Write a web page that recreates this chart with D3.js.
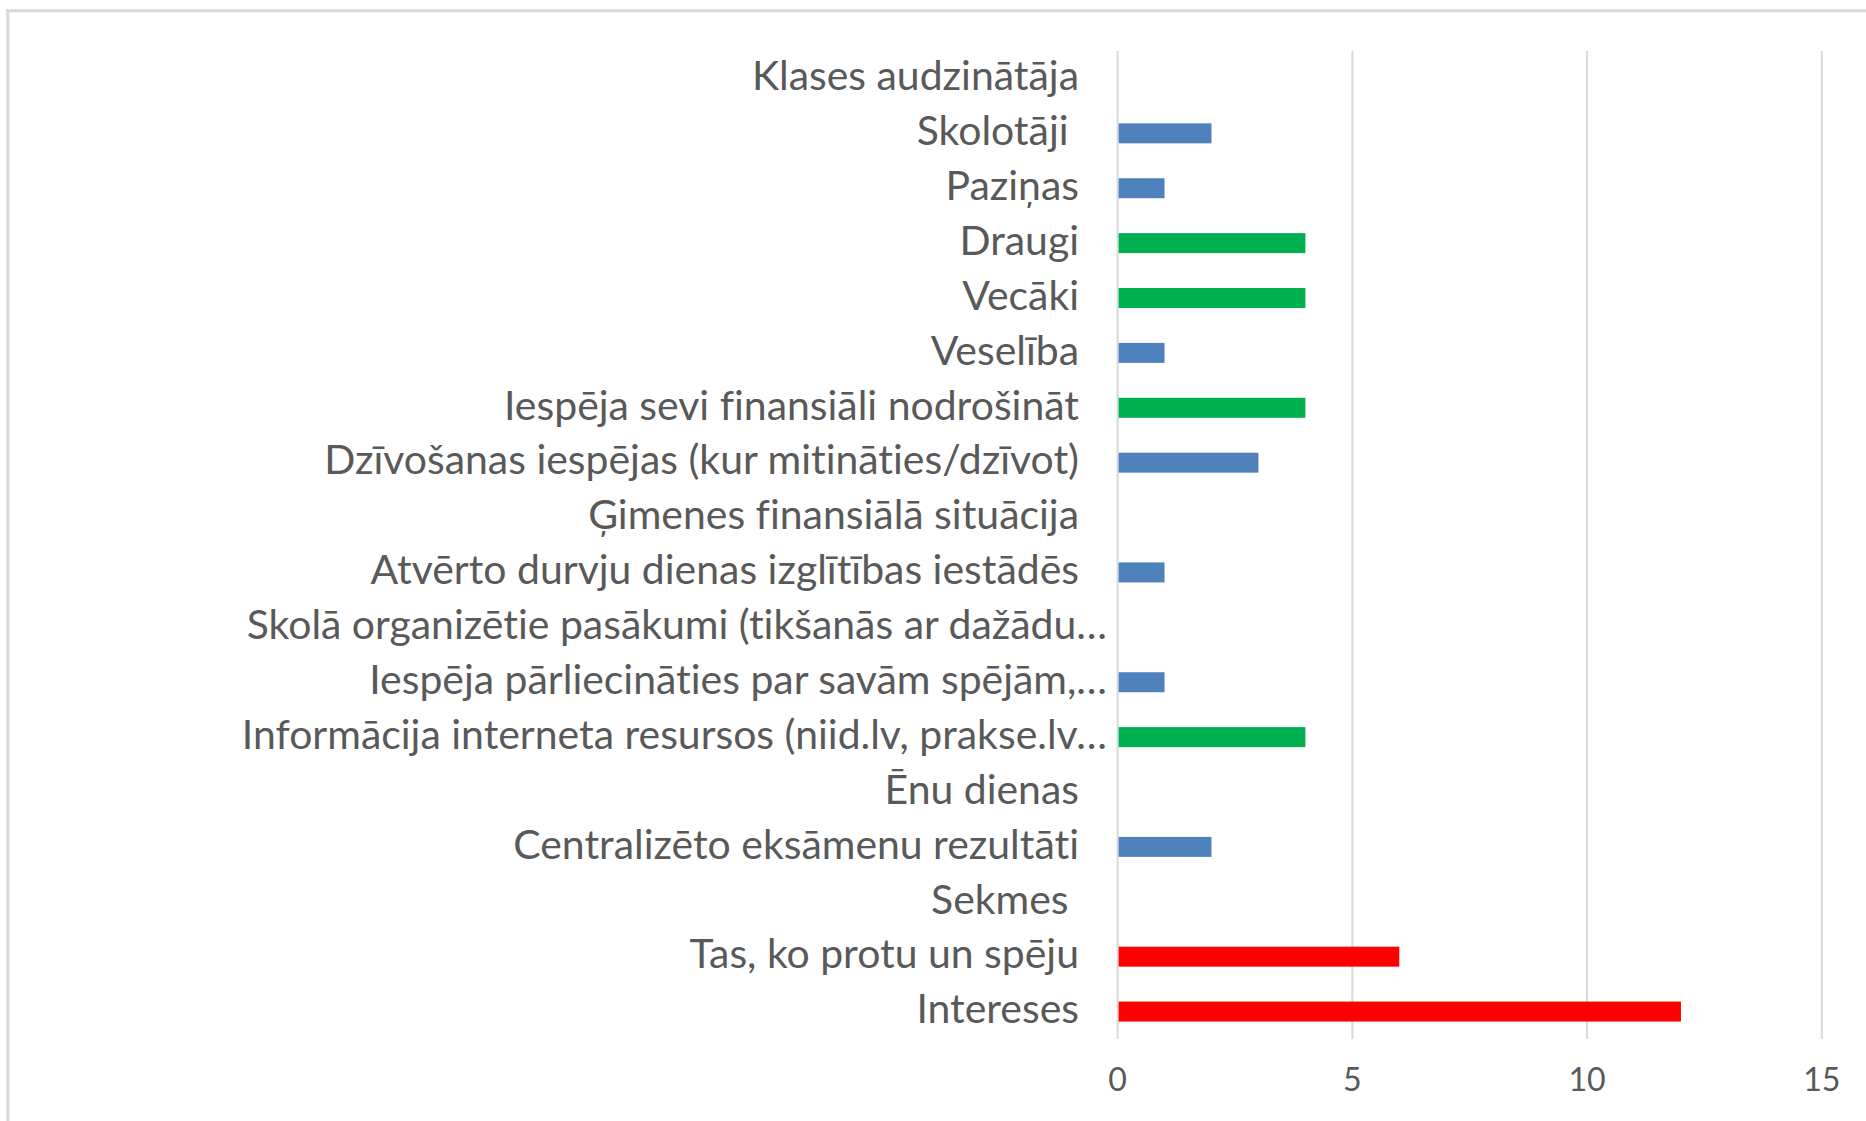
<!DOCTYPE html>
<html>
<head>
<meta charset="utf-8">
<script src="https://cdn.jsdelivr.net/npm/d3@7"></script>
<style>
  html, body { margin: 0; padding: 0; background: #fff; }
  svg { display: block; }
  text { white-space: pre; font-variant-ligatures: none; font-feature-settings: "liga" 0, "clig" 0; }
</style>
</head>
<body>
<script>
// ---- data ----
const categories = [
  "Klases audzinātāja",
  "Skolotāji ",
  "Paziņas",
  "Draugi",
  "Vecāki",
  "Veselība",
  "Iespēja sevi finansiāli nodrošināt",
  "Dzīvošanas iespējas (kur mitināties/dzīvot)",
  "Ģimenes finansiālā situācija",
  "Atvērto durvju dienas izglītības iestādēs",
  "Skolā organizētie pasākumi (tikšanās ar dažādu…",
  "Iespēja pārliecināties par savām spējām,…",
  "Informācija interneta resursos (niid.lv, prakse.lv…",
  "Ēnu dienas",
  "Centralizēto eksāmenu rezultāti",
  "Sekmes ",
  "Tas, ko protu un spēju",
  "Intereses"
];
const values = [0, 2, 1, 4, 4, 1, 4, 3, 0, 1, 0, 1, 4, 0, 2, 0, 6, 12];
const groups = ["b", "b", "b", "g", "g", "b", "g", "b", "b", "b", "b", "b", "g", "b", "b", "b", "r", "r"];
const xTicks = [0, 5, 10, 15];

// ---- layout ----
const W = 1866, H = 1121;
const plot = { left: 1117.6, right: 1821.8, top: 51, bottom: 1039 };

const svg = d3.select("body").append("svg")
  .attr("width", W).attr("height", H);

svg.append("rect").attr("width", W).attr("height", H).attr("fill", "#fff");

// outer chart border (top and left visible)
svg.append("line").attr("x1", 6.3).attr("x2", W).attr("y1", 10.7).attr("y2", 10.7)
  .attr("stroke", "#D9D9D9").attr("stroke-width", 3);
svg.append("line").attr("x1", 7.8).attr("x2", 7.8).attr("y1", 9.2).attr("y2", H)
  .attr("stroke", "#D9D9D9").attr("stroke-width", 3);

const x = d3.scaleLinear().domain([0, 15]).range([plot.left, plot.right]);
const y = d3.scaleBand().domain(categories).range([plot.top, plot.bottom]).paddingInner(0.636).paddingOuter(0.318);
const color = d3.scaleOrdinal().domain(["b", "g", "r"]).range(["#4F81BD", "#00B050", "#FF0000"]);

const fontFamily = "Lato, Carlito, Calibri, 'Open Sans', sans-serif";

// fit font size to the reference's label width
const probe = svg.append("text").attr("font-family", fontFamily).attr("font-size", 42)
  .text("Dzīvošanas iespējas (kur mitināties/dzīvot)");
const w0 = probe.node().getComputedTextLength();
probe.remove();
const k = w0 > 0 ? 755 / w0 : 1;
const catFont = 42 * k;
const tickFont = 33 * k;

// gridlines
svg.append("g").selectAll("line").data(xTicks).join("line")
  .attr("x1", d => x(d)).attr("x2", d => x(d))
  .attr("y1", plot.top).attr("y2", plot.bottom)
  .attr("stroke", "#D9D9D9").attr("stroke-width", 2);

// bars
const data = categories.map((c, i) => ({ c, v: values[i], g: groups[i] }));
svg.append("g").selectAll("rect").data(data.filter(d => d.v > 0)).join("rect")
  .attr("x", x(0) + 1)
  .attr("y", d => y(d.c))
  .attr("width", d => x(d.v) - x(0) - 1)
  .attr("height", y.bandwidth())
  .attr("fill", d => color(d.g));

// category labels
svg.append("g").selectAll("text").data(categories).join("text")
  .attr("x", d => d.endsWith("…") ? 1107 : 1079)
  .attr("y", d => y(d) + y.bandwidth() / 2 + catFont * 0.25 + 1.5)
  .attr("text-anchor", "end")
  .attr("font-family", fontFamily)
  .attr("font-size", catFont)
  .attr("fill", "#595959")
  .text(d => d);

// tick labels
svg.append("g").selectAll("text").data(xTicks).join("text")
  .attr("x", d => x(d))
  .attr("y", 1091)
  .attr("text-anchor", "middle")
  .attr("font-family", fontFamily)
  .attr("font-size", tickFont)
  .attr("fill", "#595959")
  .text(d => d);
</script>
</body>
</html>
